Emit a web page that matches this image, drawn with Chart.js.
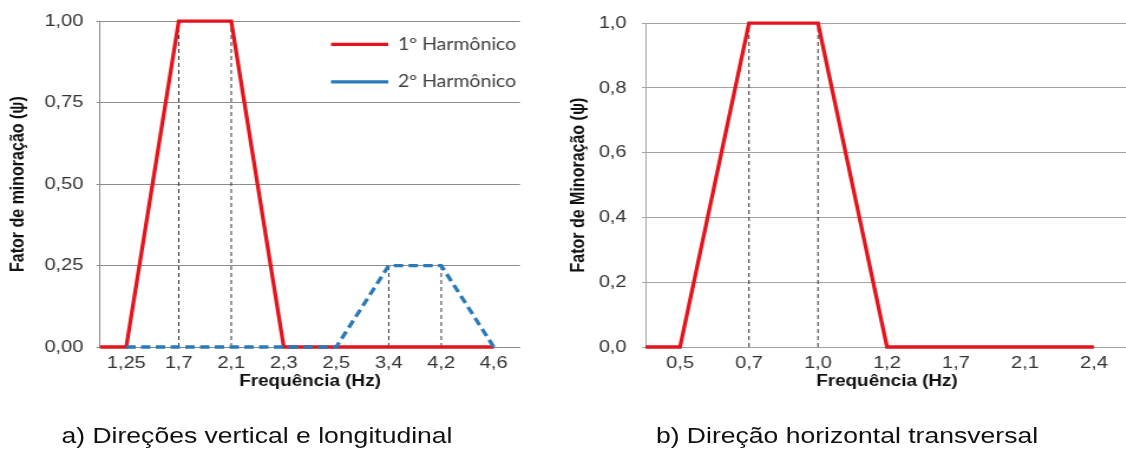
<!DOCTYPE html>
<html><head><meta charset="utf-8">
<script src="https://cdn.jsdelivr.net/npm/chart.js@4.4.1/dist/chart.umd.min.js"></script>
<style>
html,body{margin:0;padding:0;background:#fff;overflow:hidden;}
#wrap{position:absolute;left:0;top:0;height:463px;overflow:hidden;transform-origin:0 0;font-family:Arial,"Liberation Sans",sans-serif;}
.pane{position:absolute;top:0;height:400px;overflow:hidden;}
.cap{position:absolute;top:423px;font-size:22.5px;line-height:26px;color:#111;white-space:nowrap;transform:translateX(-50%);}
</style></head><body>
<div id="wrap">
<div class="pane" id="pA"><canvas id="cA"></canvas></div>
<div class="pane" id="pB"><canvas id="cB"></canvas></div>
<div class="cap" id="capA">a) Direções vertical e longitudinal</div>
<div class="cap" id="capB">b) Direção horizontal transversal</div>
</div>
<script>
// ---- Chart a) ----
const categoriesA = ['1,25', '1,7', '2,1', '2,3', '2,5', '3,4', '4,2', '4,6'];
const harmonic1 = [0, 1, 1, 0, 0, 0, 0, 0];
const harmonic2 = [0, 0, 0, 0, 0, 0.25, 0.25, 0];
const harmonic1LeadIn = 0;           // value drawn at the left edge of the plot
const guidesA = ['1,7', '2,1', '3,4', '4,2'];
const yTicksA = [0, 0.25, 0.5, 0.75, 1];
const seriesNamesA = ['1º Harmônico', '2º Harmônico'];

// ---- Chart b) ----
const categoriesB = ['0,5', '0,7', '1,0', '1,2', '1,7', '2,1', '2,4'];
const horizontal = [0, 1, 1, 0, 0, 0, 0];
const horizontalLeadIn = 0;
const guidesB = ['0,7', '1,0'];
const yTicksB = [0, 0.2, 0.4, 0.6, 0.8, 1];

// ---- layout (the reference is horizontally stretched) ----
const S = 1.18;
const W = 1126 / S;
const wrap = document.getElementById('wrap');
wrap.style.width = W + 'px';
wrap.style.transform = 'scaleX(' + S + ')';
const paneA = {left: 0, width: 560 / S, canvasW: Math.round(560 / S), areaL: 100 / S, areaR: 520 / S};
const paneB = {left: 560 / S, width: W - 560 / S, canvasW: 500, areaL: 645 / S - 560 / S, areaR: 1128 / S - 560 / S};
function setupPane(pid, cid, p) {
  const pe = document.getElementById(pid);
  pe.style.left = p.left + 'px'; pe.style.width = p.width + 'px';
  const c = document.getElementById(cid);
  c.width = p.canvasW; c.height = 400;
  c.style.width = p.canvasW + 'px'; c.style.height = '400px';
}
setupPane('pA', 'cA', paneA);
setupPane('pB', 'cB', paneB);
document.getElementById('capA').style.left = (257 / S) + 'px';
document.getElementById('capB').style.left = (847 / S) + 'px';

const RED = '#e3141c', BLUE = '#2a7ab8', FONT = "Arial, 'Liberation Sans', sans-serif";

function pts(values, leadIn) {
  const out = values.map((v, i) => ({x: i + 1, y: v}));
  if (leadIn !== undefined) out.unshift({x: 0.5, y: leadIn});
  return out;
}
function guideSets(cats, guides, seriesList) {
  return guides.map(g => {
    const i = cats.indexOf(g);
    const top = Math.max(...seriesList.map(s => s[i]));
    return {isGuide: true, label: '', data: [{x: i + 1, y: 0}, {x: i + 1, y: top}],
      borderColor: '#333333', borderWidth: 1, borderDash: [4, 3], pointRadius: 0, order: 10, clip: false};
  });
}
function axes(cats, yTicks, decimals, yTitle, yWidth, yPad, gridColor) {
  return {
    x: {
      type: 'linear', min: 0.5, max: cats.length + 0.5,
      afterBuildTicks: s => { s.ticks = cats.map((c, i) => ({value: i + 1})); },
      afterFit: s => { s.height = 53; },
      grid: {display: false, drawTicks: false},
      border: {display: true, color: gridColor, width: 1},
      ticks: {autoSkip: false, maxRotation: 0, padding: 6, color: '#333',
        font: {family: FONT, size: 17}, callback: v => cats[v - 1]},
      title: {display: true, text: 'Frequência (Hz)', color: '#111',
        font: {family: FONT, size: 16, weight: 'bold'}, padding: {top: 0, bottom: 9}}
    },
    y: {
      min: 0, max: 1,
      afterBuildTicks: s => { s.ticks = yTicks.map(v => ({value: v})); },
      afterFit: s => { s.width = yWidth; },
      grid: {color: gridColor, lineWidth: 1, drawTicks: true, tickLength: 3},
      border: {display: true, color: gridColor, width: 1},
      ticks: {padding: yPad, color: '#333', font: {family: FONT, size: 17},
        callback: v => v.toFixed(decimals).replace('.', ',')},
      title: {display: true, text: yTitle, color: '#111',
        font: {family: FONT, size: 16, weight: 'bold'}, padding: {top: 5.5, bottom: 0}}
    }
  };
}

const moveLegend = {
  id: 'moveLegend',
  afterLayout(chart) {
    const lg = chart.legend;
    if (!lg || chart.canvas.id !== 'cA') return;
    const a = chart.chartArea, w = lg.width, h = lg.height;
    const pad = chart.options.plugins.legend.labels.padding;
    lg.left = 331 / S - pad; lg.right = lg.left + w;
    lg.top = a.top - 6; lg.bottom = lg.top + h;
  }
};

new Chart(document.getElementById('cA'), {
  type: 'line',
  data: {
    datasets: [
      {label: seriesNamesA[0], data: pts(harmonic1, harmonic1LeadIn), borderColor: RED, backgroundColor: RED,
        borderWidth: 3.3, pointRadius: 0, order: 2, clip: false},
      {label: seriesNamesA[1], data: pts(harmonic2), borderColor: BLUE, backgroundColor: BLUE,
        borderWidth: 3.3, borderDash: [8, 4.5], pointRadius: 0, order: 1, clip: false},
      ...guideSets(categoriesA, guidesA, [harmonic1, harmonic2])
    ]
  },
  options: {
    responsive: false, animation: false,
    layout: {padding: {top: 20, right: paneA.canvasW - paneA.areaR, bottom: 0, left: 0}},
    scales: axes(categoriesA, yTicksA, 2, 'Fator de minoração (ψ)', paneA.areaL, 11, '#8c8c8c'),
    plugins: {
      tooltip: {enabled: false},
      legend: {
        position: 'chartArea', align: 'start',
        labels: {
          usePointStyle: true, pointStyle: 'line', pointStyleWidth: 48.5, boxHeight: 14,
          padding: 21, color: '#404040', font: {family: 'Lato', size: 16.5},
          filter: (item, data) => !data.datasets[item.datasetIndex].isGuide,
          sort: (a, b) => a.datasetIndex - b.datasetIndex
        }
      }
    }
  },
  plugins: [moveLegend]
});

new Chart(document.getElementById('cB'), {
  type: 'line',
  data: {
    datasets: [
      {label: 'Horizontal', data: pts(horizontal, horizontalLeadIn), borderColor: RED, backgroundColor: RED,
        borderWidth: 3.3, pointRadius: 0, order: 1, clip: false},
      ...guideSets(categoriesB, guidesB, [horizontal])
    ]
  },
  options: {
    responsive: false, animation: false,
    layout: {padding: {top: 21, right: paneB.canvasW - paneB.areaR, bottom: 0, left: 0}},
    scales: axes(categoriesB, yTicksB, 1, 'Fator de Minoração (ψ)', paneB.areaL, 13, '#a3a3a3'),
    plugins: {tooltip: {enabled: false}, legend: {display: false}}
  }
});
</script>
</body></html>
